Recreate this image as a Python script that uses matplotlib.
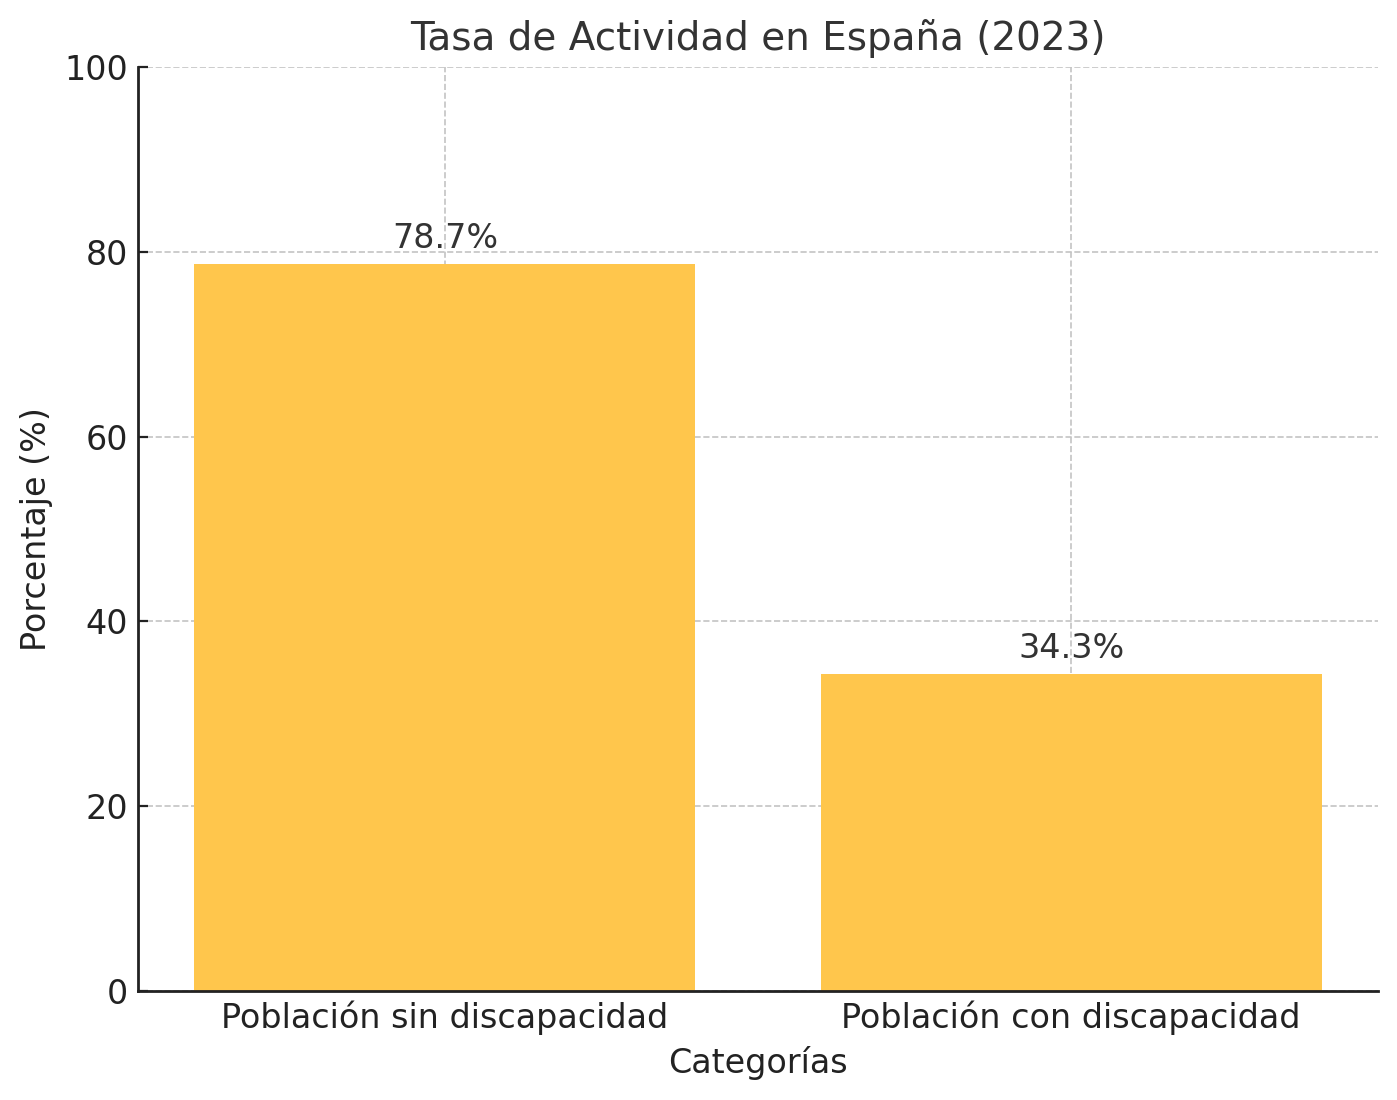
import matplotlib
matplotlib.use("Agg")
import matplotlib.pyplot as plt

categories = ["Población sin discapacidad", "Población con discapacidad"]
values = [78.7, 34.3]
value_labels = ["78.7%", "34.3%"]

fig = plt.figure(figsize=(6.985, 5.5), dpi=200)
ax = fig.add_axes([138/1397, 1-991/1100, (1378-138)/1397, (991-67)/1100])

bars = ax.bar(categories, values, color="#FFC64C", width=0.8, zorder=2)
for b, lab in zip(bars, value_labels):
    ax.text(b.get_x() + b.get_width()/2, b.get_height() + 1, lab,
            ha="center", va="bottom", fontsize=12, color="#333333", zorder=3)

ax.set_ylim(0, 100)
ax.set_title("Tasa de Actividad en España (2023)", fontsize=14, color="#333333")
ax.set_xlabel("Categorías", fontsize=12, color="#222222")
ax.set_ylabel("Porcentaje (%)", fontsize=12, color="#222222")
ax.tick_params(labelsize=12, colors="#222222", direction="in")
ax.grid(True, linestyle="--", color="#c4c4c4", linewidth=0.6, zorder=2.5)
for s in ["top", "right"]:
    ax.spines[s].set_visible(False)
for s in ["left", "bottom"]:
    ax.spines[s].set_color("#222222")
    ax.spines[s].set_linewidth(1.0)
    ax.spines[s].set_zorder(4)

fig.savefig("out.png", dpi=200)
